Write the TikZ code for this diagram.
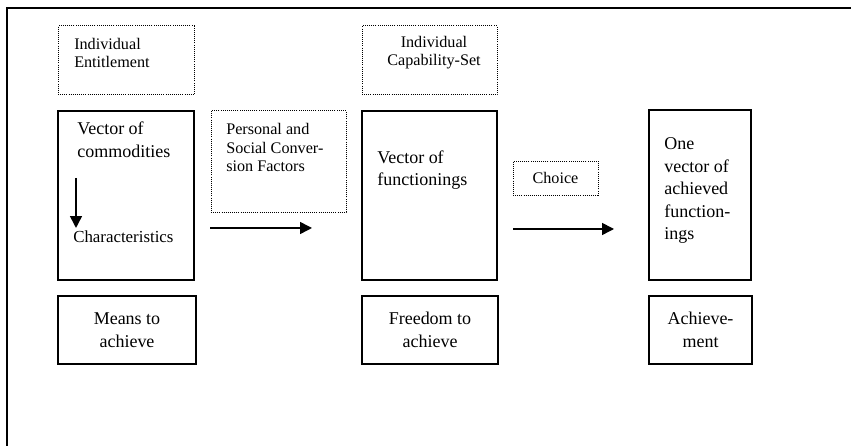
\documentclass[tikz,border=0pt]{standalone}
\usepackage{fontspec}
\setmainfont{Liberation Serif}
\usetikzlibrary{arrows.meta}
\newcommand{\bigtxt}{\fontsize{12.8}{16}\selectfont}
\newcommand{\smalltxt}{\fontsize{11.5}{13.2}\selectfont}
\tikzset{
  box/.style={draw,line width=1.1pt,inner sep=0pt,align=center,font=\bigtxt},
  dotbox/.style={draw,dash pattern=on 0.6pt off 0.9pt,line width=0.7pt,inner sep=0pt,align=center,font=\smalltxt},
  txt/.style={inner sep=0pt,align=left,anchor=west}
}
\begin{document}
\begin{tikzpicture}[>={Triangle[length=8.5pt,width=8.5pt]}]
    \useasboundingbox (0,0) rectangle (21.275,11.15);
    \draw[line width=0.9pt](21.275,10.95)-|(0.175,0);
    % upper row
    \node[dotbox,minimum width=3.4cm,minimum height=1.725cm](ent)at(3.15,9.6375){};
    \node[dotbox,minimum width=3.375cm,minimum height=1.725cm](cap)at(10.7375,9.6375){};
    \node[txt,font=\smalltxt](enttxt)at(1.85,9.83){Individual\\Entitlement};
    \node[inner sep=0pt,align=center,font=\smalltxt](captxt)at(10.85,9.83){Individual\\Capability-Set};
    % middle row
    \node[box,minimum width=3.4cm,minimum height=4.225cm](comm)at(3.15,6.2625){};
    \node[dotbox,minimum width=3.375cm,minimum height=2.525cm](conv)at(6.9625,7.1125){};
    \node[box,minimum width=3.375cm,minimum height=4.225cm](func)at(10.7375,6.2625){};
    \node[dotbox,minimum width=2.125cm,minimum height=0.85cm](choice)at(13.8875,6.7){Choice};
    \node[box,minimum width=2.55cm,minimum height=4.25cm](ach)at(17.5,6.275){};
    \node[txt,font=\bigtxt](commtxt)at(1.925,7.65){Vector of\\commodities};
    \node[txt,font=\fontsize{12}{14}\selectfont](chr)at(1.825,5.22){Characteristics};
    \node[txt,font=\smalltxt](convtxt)at(5.65,7.46){Personal and\\Social Conver-\\sion Factors};
    \node[txt,font=\bigtxt](functxt)at(9.425,6.9){Vector of\\functionings};
    \node[txt,font=\bigtxt](achtxt)at(16.6,6.38){One\\vector of\\achieved\\function-\\ings};
    % lower row
    \node[box,minimum width=3.45cm,minimum height=1.7cm](means)at(3.175,2.9){Means to\\achieve};
    \node[box,minimum width=3.4cm,minimum height=1.7cm](free)at(10.75,2.9){Freedom to\\achieve};
    \node[box,minimum width=2.575cm,minimum height=1.7cm](achv)at(17.5125,2.9){Achieve-\\ment};
    % arrows
    \coordinate(c1)at(1.9,6.7); \coordinate(c2)at(1.9,5.45);
    \coordinate(a1)at(5.25,5.45); \coordinate(a2)at(7.8,5.45);
    \coordinate(b1)at(12.825,5.425); \coordinate(b2)at(15.35,5.425);
    \draw[->,line width=1.1pt](c1)--(c2);
    \draw[->,line width=1.1pt](a1)--(a2);
    \draw[->,line width=1.1pt](b1)--(b2);
\end{tikzpicture}
\end{document}
